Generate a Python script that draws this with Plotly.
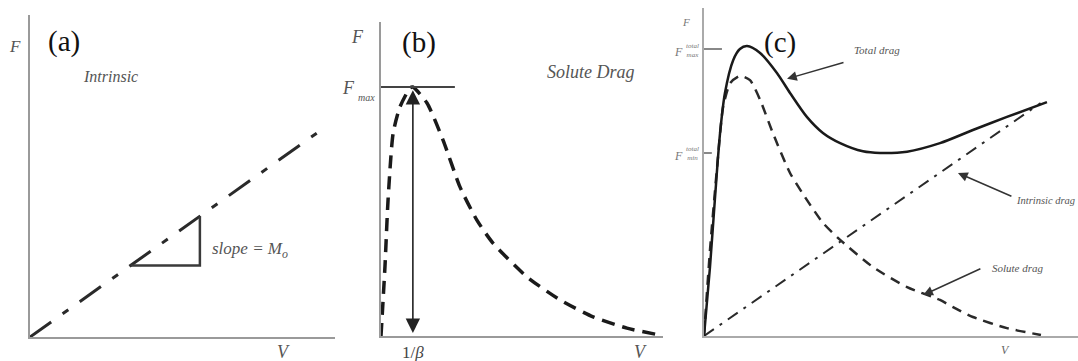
import plotly.graph_objects as go

W, H = 1078, 361

# ---------------- data ----------------
# (a) intrinsic drag line and slope triangle
a_v = [0.0, 9.4]
a_f = [0.0, 6.33]
tri_v = [3.3, 5.57, 5.57]
tri_f = [2.22, 2.22, 3.75]

# (b) solute drag curve
b_v = [0.0, 0.14, 0.25, 0.43, 0.67, 1.03, 1.13, 1.63, 2.20, 2.80, 3.40, 3.97,
       5.18, 6.35, 7.52, 8.72, 9.72]
b_f = [0.0, 2.20, 4.33, 6.46, 7.29, 7.90, 7.93, 7.42, 6.24, 4.75, 3.69, 2.96,
       1.88, 1.15, 0.61, 0.25, 0.06]
b_fmax = 7.93
b_fmax_v = [0.0, 2.62]
b_inv_beta = 1.13

# (c) total / solute / intrinsic drag
c_total_v = [0.0, 0.16, 0.29, 0.43, 0.56, 0.78, 0.96, 1.15, 1.50, 1.95, 2.30, 2.75,
             3.18, 3.64, 4.25, 4.71, 5.43, 6.31, 7.19, 8.10, 9.17]
c_total_f = [0.0, 2.10, 4.15, 6.19, 7.41, 8.41, 8.75, 8.84, 8.63, 8.02, 7.41, 6.68,
             6.19, 5.88, 5.63, 5.58, 5.62, 5.88, 6.28, 6.68, 7.13]
c_solute_v = [0.0, 0.16, 0.35, 0.51, 0.70, 0.96, 1.23, 1.50, 1.84, 2.30, 2.75, 3.18,
              3.64, 4.52, 5.43, 6.31, 6.66, 7.19, 8.10, 9.01]
c_solute_f = [0.0, 2.62, 5.15, 6.98, 7.71, 7.93, 7.80, 7.20, 6.19, 4.97, 4.15, 3.45,
              2.93, 2.10, 1.49, 1.10, 0.88, 0.58, 0.24, 0.03]
c_intr_v = [0.0, 9.0]
c_intr_f = [0.0, 7.1]
c_fmax_total = 8.75
c_fmin_total = 5.58
c_tick_max_v = [0.0, 0.48]
c_tick_min_v = [0.0, 0.21]


def px_x(p):
    return p / W


def px_y(p):
    return 1 - p / H


fig = go.Figure()

BLACK = "#1a1a1a"
GRAY = "#555555"

fig.add_trace(go.Scatter(x=a_v, y=a_f, mode="lines", xaxis="x", yaxis="y",
                         line=dict(color="#2a2a2a", width=3, dash="26px,14px,7px,14px")))
fig.add_trace(go.Scatter(x=tri_v, y=tri_f, mode="lines", xaxis="x", yaxis="y",
                         line=dict(color="#3a3a3a", width=2.5)))

fig.add_trace(go.Scatter(x=b_v, y=b_f, mode="lines", xaxis="x2", yaxis="y2",
                         line=dict(color=BLACK, width=3.5, dash="13px,8px", shape="spline",
                                   smoothing=0.6)))
fig.add_trace(go.Scatter(x=b_fmax_v, y=[b_fmax, b_fmax], mode="lines", xaxis="x2", yaxis="y2",
                         line=dict(color="#444444", width=2)))

fig.add_trace(go.Scatter(x=c_intr_v, y=c_intr_f, mode="lines", xaxis="x3", yaxis="y3",
                         line=dict(color="#2a2a2a", width=2, dash="12px,7px,3px,7px")))
fig.add_trace(go.Scatter(x=c_solute_v, y=c_solute_f, mode="lines", xaxis="x3", yaxis="y3",
                         line=dict(color="#2a2a2a", width=2.5, dash="10px,7px", shape="spline",
                                   smoothing=0.6)))
fig.add_trace(go.Scatter(x=c_total_v, y=c_total_f, mode="lines", xaxis="x3", yaxis="y3",
                         line=dict(color=BLACK, width=2.5, shape="spline", smoothing=0.8)))
fig.add_trace(go.Scatter(x=c_tick_max_v, y=[c_fmax_total, c_fmax_total], mode="lines",
                         xaxis="x3", yaxis="y3", line=dict(color="#888888", width=2)))
fig.add_trace(go.Scatter(x=c_tick_min_v, y=[c_fmin_total, c_fmin_total], mode="lines",
                         xaxis="x3", yaxis="y3", line=dict(color="#888888", width=2)))

axis_common = dict(showgrid=False, zeroline=False, showticklabels=False, ticks="",
                   showline=True, fixedrange=True)

SERIF = "Liberation Serif"

fig.update_layout(
    width=W, height=H,
    margin=dict(l=0, r=0, t=0, b=0),
    paper_bgcolor="white", plot_bgcolor="white",
    showlegend=False,
    font=dict(family=SERIF),
    xaxis=dict(domain=[px_x(30), px_x(335)], range=[0, 10], anchor="y",
               linecolor="#9a9a9a", linewidth=2, **axis_common),
    yaxis=dict(domain=[px_y(337), px_y(15)], range=[0, 10], anchor="x",
               linecolor="#9a9a9a", linewidth=2, **axis_common),
    xaxis2=dict(domain=[px_x(381), px_x(663)], range=[0, 10], anchor="y2",
                linecolor="#9a9a9a", linewidth=2, **axis_common),
    yaxis2=dict(domain=[px_y(336), px_y(22)], range=[0, 10], anchor="x2",
                linecolor="#9a9a9a", linewidth=2, **axis_common),
    xaxis3=dict(domain=[px_x(704), 1.0], range=[0, 10], anchor="y3",
                linecolor="#aaaaaa", linewidth=1.5, **axis_common),
    yaxis3=dict(domain=[px_y(336), px_y(8)], range=[0, 10], anchor="x3",
                linecolor="#aaaaaa", linewidth=1.5, **axis_common),
)

ann = []


def label(text, x, y, size, color=GRAY, xanchor="center", yanchor="middle", italic=False):
    if italic:
        text = "<i>" + text + "</i>"
    ann.append(dict(text=text, x=px_x(x), y=px_y(y), xref="paper", yref="paper",
                    showarrow=False, xanchor=xanchor, yanchor=yanchor,
                    font=dict(family=SERIF, size=size, color=color)))


# panel letters
label("(a)", 64, 41, 29, color="#111111")
label("(b)", 419, 42, 29, color="#111111")
label("(c)", 780, 43, 29, color="#111111")

# (a)
label("F", 15, 46, 17, italic=True)
label("Intrinsic", 110, 77, 16, italic=True)
label("slope = M<sub>o</sub>", 210, 250, 17, xanchor="left", italic=True)
label("V", 283, 352, 18, italic=True)

# (b)
label("F", 357, 37, 18, italic=True)
label("F", 348, 88, 18, italic=True)
label("max", 366, 97, 10, italic=True)
label("Solute Drag", 591, 72, 18, italic=True)
label("1/<i>β</i>", 413, 352, 17, color="#444444")
label("V", 640, 352, 18, italic=True)

# (c)
label("F", 686, 22, 11, color="#777777", italic=True)
label("F", 678, 52, 12, color="#777777", italic=True)
label("total<br>max", 692, 50, 7, color="#777777", italic=True)
label("F", 678, 156, 12, color="#777777", italic=True)
label("total<br>min", 692, 154, 7, color="#777777", italic=True)
label("V", 1005, 350, 12, color="#666666", italic=True)
label("Total drag", 852, 50, 11, xanchor="left", italic=True)
label("Intrinsic drag", 1014, 200, 10.5, xanchor="left", italic=True)
label("Solute drag", 990, 268, 11, xanchor="left", italic=True)

# (b) double-headed arrow at 1/beta
ann.append(dict(x=b_inv_beta, y=b_fmax - 0.1, ax=b_inv_beta, ay=0.05,
                xref="x2", yref="y2", axref="x2", ayref="y2", text="",
                showarrow=True, arrowhead=2, startarrowhead=2, arrowside="end+start",
                arrowsize=1.8, startarrowsize=1.8, arrowwidth=1.6, arrowcolor="#222222"))

# (c) pointer arrows
for hx, hy, tx, ty in [(2.22, 7.84, 3.77, 8.35), (6.79, 4.97, 8.26, 4.24),
                       (5.86, 1.25, 7.43, 2.07)]:
    ann.append(dict(x=hx, y=hy, ax=tx, ay=ty, xref="x3", yref="y3", axref="x3",
                    ayref="y3", text="", showarrow=True, arrowhead=2, arrowsize=1.3,
                    arrowwidth=1.5, arrowcolor="#333333"))

fig.update_layout(annotations=ann)

fig.write_html("out.html")
